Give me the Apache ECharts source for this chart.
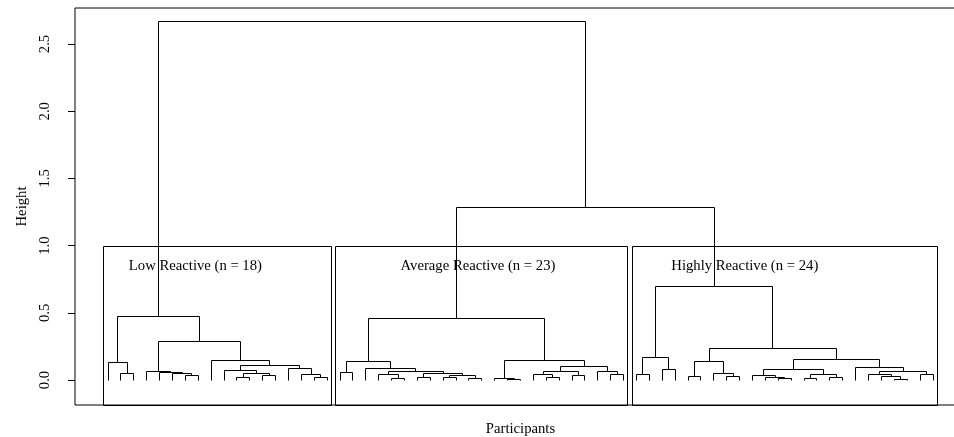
<!DOCTYPE html>
<html><head><meta charset="utf-8">
<script src="https://cdn.jsdelivr.net/npm/echarts@6/dist/echarts.min.js"></script>
<style>html,body{margin:0;padding:0;background:#fff}#c{width:954px;height:437px}</style>
</head><body><div id="c"></div>
<script>
// Dendrogram nodes: [mergeHeight, left, right]; numbers are leaf positions (1..65, plot order)
const lowReactive = [0.471,
  [0.129, 1, [0.045, 2, 3]],
  [0.285,
    [0.063, 4, [0.055, 5, [0.045, 6, [0.03, 7, 8]]]],
    [0.147, 9,
      [0.108,
        [0.068, 10, [0.05, [0.015, 11, 12], [0.035, 13, 14]]],
        [0.083, 15, [0.038, 16, [0.02, 17, 18]]]
      ]
    ]
  ]
];
const averageReactive = [0.459,
  [0.137, [0.058, 19, 20],
    [0.088, 21,
      [0.065,
        [0.04, 22, [0.008, 23, 24]],
        [0.05, [0.015, 25, 26], [0.035, [0.02, 27, 28], [0.012, 29, 30]]]
      ]
    ]
  ],
  [0.142,
    [0.012, 31, [0.005, 32, 33]],
    [0.1,
      [0.066, [0.04, 34, [0.018, 35, 36]], [0.03, 37, 38]],
      [0.06, 39, [0.04, 40, 41]]
    ]
  ]
];
const highlyReactive = [0.694,
  [0.166, [0.04, 42, 43], [0.079, 44, 45]],
  [0.238,
    [0.139, [0.027, 46, 47], [0.052, 48, [0.025, 49, 50]]],
    [0.149,
      [0.079,
        [0.03, 51, [0.022, 52, [0.01, 53, 54]]],
        [0.042, [0.01, 55, 56], [0.02, 57, 58]]
      ],
      [0.092, 59,
        [0.06, [0.04, 60, [0.025, 61, [0.007, 62, 63]]], [0.04, 64, 65]]
      ]
    ]
  ]
];
const groupJoinHeights = [1.287, 2.664]; // average+highly, then low+rest
const groupNames = ['Low Reactive (n = 18)', 'Average Reactive (n = 23)', 'Highly Reactive (n = 24)'];
const groupSizes = [18, 23, 24];
const yTicks = [0, 0.5, 1, 1.5, 2, 2.5];

// ---- layout (not data) ----
const labelAnchorX = [7.78, 29.7, 50.4];
const labelAnchorY = 0.85;
const Y_MIN = -0.186, Y_MAX = 2.768, X_MIN = -1.56, X_MAX = 67.56;
const FONT = 'Liberation Serif';

const tree = [groupJoinHeights[1], lowReactive, [groupJoinHeights[0], averageReactive, highlyReactive]];
const links = [];
function walk(n) {
  if (typeof n === 'number') return { x: n, h: 0 };
  const a = walk(n[1]), b = walk(n[2]);
  links.push([a.x, a.h, b.x, b.h, n[0]]);
  return { x: (a.x + b.x) / 2, h: n[0] };
}
walk(tree);

const cutHeight = (groupJoinHeights[0] + Math.max(lowReactive[0], averageReactive[0], highlyReactive[0])) / 2;
const boxes = [];
let cum = 0;
groupSizes.forEach((s, i) => {
  boxes.push([cum + 0.66, cum + s + 0.33, Y_MIN, cutHeight]);
  cum += s;
});
const labels = groupNames.map((t, i) => [labelAnchorX[i], labelAnchorY, t]);

const snap = v => Math.round(v - 0.5) + 0.5;
const chart = echarts.init(document.getElementById('c'), null, { renderer: 'canvas' });
chart.setOption({
  animation: false,
  backgroundColor: '#fff',
  grid: { left: 75, top: 8, width: 891, height: 397, outerBoundsMode: 'none', containLabel: false,
    show: true, borderColor: '#000', borderWidth: 1, backgroundColor: 'transparent' },
  xAxis: {
    type: 'value', min: X_MIN, max: X_MAX,
    axisLine: { show: false, onZero: false }, axisTick: { show: false }, axisLabel: { show: false }, splitLine: { show: false },
    name: 'Participants', nameLocation: 'middle', nameGap: 17,
    nameTextStyle: { fontFamily: FONT, fontSize: 14.7, color: '#000' }
  },
  yAxis: {
    type: 'value', min: Y_MIN, max: Y_MAX,
    axisLine: { show: false, onZero: false }, splitLine: { show: false },
    axisTick: { show: true, length: 7, customValues: yTicks, lineStyle: { color: '#000', width: 1 } },
    axisLabel: { customValues: yTicks, rotate: 90, margin: 22, formatter: v => v.toFixed(1),
      fontFamily: FONT, fontSize: 14.7, color: '#000' },
    name: 'Height', nameLocation: 'middle', nameRotate: 90, nameGap: 45,
    nameTextStyle: { fontFamily: FONT, fontSize: 14.7, color: '#000' }
  },
  series: [
    {
      type: 'custom', data: links, silent: true, clip: false,
      encode: { x: [0, 2], y: [1, 3, 4] },
      renderItem: (params, api) => {
        const p1 = api.coord([api.value(0), api.value(1)]);
        const p2 = api.coord([api.value(0), api.value(4)]);
        const p3 = api.coord([api.value(2), api.value(4)]);
        const p4 = api.coord([api.value(2), api.value(3)]);
        const pts = [p1, p2, p3, p4].map(p => [snap(p[0]), snap(p[1])]);
        return { type: 'polyline', shape: { points: pts }, style: { stroke: '#000', lineWidth: 1, fill: null } };
      }
    },
    {
      type: 'custom', data: boxes, silent: true, clip: false,
      encode: { x: [0, 1], y: [2, 3] },
      renderItem: (params, api) => {
        const a = api.coord([api.value(0), api.value(3)]);
        const b = api.coord([api.value(1), api.value(2)]);
        const x0 = snap(a[0]), y0 = snap(a[1]), x1 = snap(b[0]), y1 = snap(b[1]);
        return { type: 'rect', shape: { x: x0, y: y0, width: x1 - x0, height: y1 - y0 },
          style: { stroke: '#000', lineWidth: 1, fill: null } };
      }
    },
    {
      type: 'custom', data: labels, silent: true, clip: false,
      encode: { x: 0, y: 1 },
      renderItem: (params, api) => {
        const p = api.coord([api.value(0), api.value(1)]);
        return { type: 'text', x: p[0], y: p[1],
          style: { text: labels[params.dataIndex][2], fill: '#000', font: '14.7px "Liberation Serif"',
            textAlign: 'center', textVerticalAlign: 'middle' } };
      }
    }
  ]
});
</script></body></html>
